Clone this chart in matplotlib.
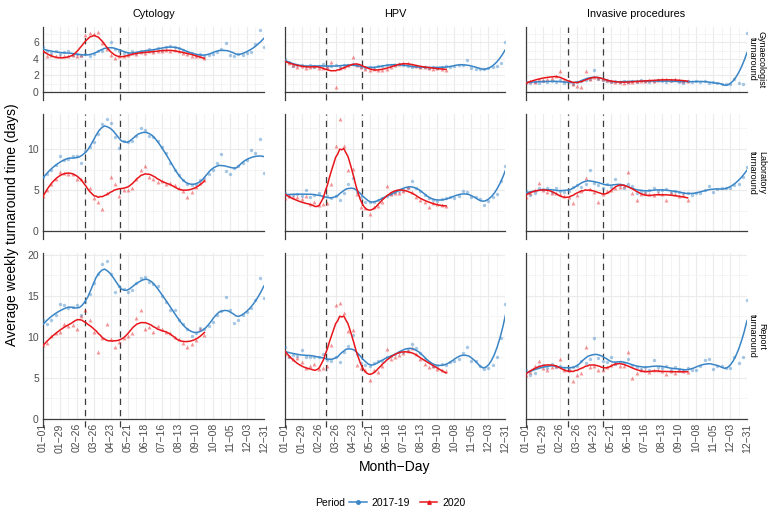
import numpy as np
import matplotlib
matplotlib.use("Agg")
import matplotlib.pyplot as plt
from matplotlib.lines import Line2D

plt.rcParams["font.family"] = ["Liberation Sans", "DejaVu Sans"]

# ---- data (weekly averages) ----
tests = ["Cytology", "HPV", "Invasive procedures"]
stages = ["Gynaecologist\nturnaround", "Laboratory\nturnaround", "Report\nturnaround"]
tick_labels = ["01-01", "01-29", "02-26", "03-26", "04-23", "05-21", "06-18",
               "07-16", "08-13", "09-10", "10-08", "11-05", "12-03", "12-31"]
lockdown_days = [69, 127]

days_1719 = list(range(0, 365, 7))   # 53 weeks
days_2020 = list(range(0, 267, 7))   # 39 weeks

# Gynaecologist turnaround
cyt_gyn_1719 = [5.4, 4.9, 4.7, 4.9, 4.6, 4.8, 5.0, 4.5, 4.6, 4.4, 4.6, 4.4, 4.6, 5.0, 4.9, 5.3, 6.1, 5.2,
                4.9, 4.7, 4.6, 4.9, 4.7, 5.0, 4.9, 5.2, 5.0, 5.3, 5.1, 5.4, 5.6, 5.5, 5.3, 5.1, 4.8, 4.7,
                4.5, 4.6, 4.4, 4.5, 4.6, 4.8, 5.2, 5.9, 4.5, 4.4, 4.6, 4.5, 4.7, 4.8, 5.8, 7.5, 5.4]
cyt_gyn_2020 = [4.9, 4.4, 4.5, 4.3, 4.4, 4.3, 4.3, 4.5, 4.4, 4.5, 6.9, 7.1, 7.0, 7.3, 5.9, 5.2, 4.5, 4.1,
                4.4, 4.3, 4.5, 4.7, 4.6, 4.8, 4.7, 4.9, 4.8, 5.0, 4.9, 5.1, 5.0, 5.1, 4.9, 4.7, 4.6, 4.4,
                4.3, 4.3, 4.1]
hpv_gyn_1719 = [4.0, 3.6, 3.1, 3.2, 3.3, 3.1, 3.2, 3.0, 3.1, 3.4, 3.0, 3.1, 3.2, 3.0, 3.2, 3.3, 3.4, 3.2,
                3.0, 2.9, 3.0, 2.9, 3.1, 3.1, 3.2, 3.3, 3.3, 3.4, 3.2, 3.1, 3.0, 3.1, 3.0, 3.0, 2.9, 3.0,
                2.9, 3.0, 3.1, 3.0, 3.1, 3.2, 3.2, 3.9, 2.9, 2.8, 2.8, 2.8, 2.9, 3.0, 3.1, 3.5, 6.05]
hpv_gyn_2020 = [3.9, 3.5, 3.2, 3.0, 3.1, 2.9, 3.0, 3.1, 2.9, 2.9, 3.0, 3.6, 0.6, 2.9, 3.0, 3.2, 4.2, 3.3,
                3.0, 2.8, 2.7, 2.8, 2.7, 2.6, 2.8, 3.0, 3.2, 3.4, 3.5, 3.5, 3.3, 3.1, 3.0, 3.0, 2.9, 2.8,
                2.9, 2.8, 2.7]
inv_gyn_1719 = [1.2, 1.1, 1.2, 1.1, 1.3, 1.2, 1.3, 1.2, 1.4, 1.1, 1.3, 0.9, 1.2, 1.3, 1.4, 1.5, 2.6, 1.6,
                1.4, 1.3, 1.2, 1.3, 1.2, 1.3, 1.2, 1.3, 1.2, 1.4, 1.3, 1.2, 1.3, 1.4, 1.3, 1.2, 1.3, 1.4,
                1.2, 1.1, 1.3, 1.2, 1.3, 1.2, 1.3, 1.1, 1.2, 1.1, 0.9, 0.9, 1.0, 1.5, 1.1, 1.0, 7.1]
inv_gyn_2020 = [1.2, 1.3, 1.2, 1.6, 1.4, 1.5, 1.7, 1.9, 2.5, 1.4, 1.3, 0.9, 0.7, 0.6, 2.5, 1.6, 1.8, 1.7,
                1.5, 1.4, 1.3, 1.2, 1.2, 1.1, 1.2, 1.2, 1.3, 1.3, 1.3, 1.4, 1.3, 1.4, 1.5, 1.5, 1.4, 1.5,
                1.4, 1.3, 1.3]

# Laboratory turnaround
cyt_lab_1719 = [6.6, 6.9, 7.4, 8.0, 9.2, 8.6, 8.8, 9.2, 9.1, 8.3, 9.8, 10.3, 10.9, 11.8, 13.0, 13.6, 13.2,
                11.5, 10.1, 11.0, 10.8, 11.0, 11.6, 12.5, 12.3, 11.6, 11.4, 11.0, 10.2, 9.5, 8.3, 7.5,
                6.8, 6.2, 5.7, 5.6, 5.7, 6.2, 6.5, 6.9, 7.4, 8.3, 9.4, 7.3, 7.0, 7.7, 7.9, 8.3, 8.6,
                9.9, 9.5, 11.2, 7.1]
cyt_lab_2020 = [4.3, 5.0, 5.7, 6.3, 7.2, 7.1, 7.0, 6.9, 6.4, 6.3, 6.2, 5.3, 4.0, 3.5, 2.7, 4.7, 6.6, 5.7,
                4.3, 5.0, 5.0, 5.3, 6.3, 7.4, 7.9, 6.6, 6.4, 6.0, 6.1, 5.8, 5.9, 5.6, 5.2, 4.9, 4.2, 4.8,
                5.4, 5.9, 6.2]
hpv_lab_1719 = [4.6, 4.3, 4.4, 4.5, 4.3, 5.0, 4.2, 4.4, 4.6, 4.1, 4.3, 4.0, 4.3, 3.8, 4.6, 5.7, 6.5, 4.8,
                4.1, 3.6, 3.5, 3.6, 3.8, 4.0, 4.3, 4.5, 4.8, 4.9, 5.0, 5.2, 6.1, 5.2, 4.9, 4.4, 4.0, 3.8,
                3.7, 3.9, 4.0, 4.1, 4.0, 4.3, 4.9, 4.8, 4.2, 4.1, 3.9, 3.2, 3.7, 4.1, 4.5, 6.1, 7.9]
hpv_lab_2020 = [4.0, 4.3, 4.1, 4.2, 3.9, 4.3, 3.3, 3.5, 3.2, 3.3, 3.4, 5.7, 10.4, 13.6, 10.4, 7.5, 7.6, 4.5,
                3.0, 2.8, 2.1, 2.9, 3.1, 3.6, 5.5, 4.5, 4.6, 4.7, 4.9, 5.4, 4.8, 4.2, 3.8, 3.6, 3.0, 3.4,
                3.3, 3.2, 3.1]
inv_lab_1719 = [4.9, 4.4, 4.7, 5.3, 5.1, 5.2, 4.8, 5.2, 4.9, 4.8, 4.9, 5.4, 5.6, 5.4, 5.8, 7.4, 5.9, 5.6,
                5.3, 5.7, 5.4, 6.3, 5.6, 5.2, 5.7, 5.5, 4.7, 4.9, 4.8, 5.0, 5.2, 4.9, 5.0, 5.1, 4.8, 4.9,
                4.8, 4.7, 4.6, 4.4, 4.7, 4.6, 5.0, 5.5, 4.8, 5.1, 5.3, 5.2, 5.2, 5.6, 5.8, 6.6, 7.8]
inv_lab_2020 = [4.1, 4.6, 5.0, 5.9, 5.0, 4.8, 4.7, 4.6, 4.5, 4.3, 4.2, 3.4, 4.4, 4.9, 6.5, 5.1, 4.8, 3.6,
                4.5, 4.9, 5.0, 5.2, 5.4, 5.5, 7.2, 4.6, 3.8, 4.5, 4.6, 4.5, 4.4, 4.6, 4.5, 3.8, 4.6, 4.5,
                4.3, 4.4, 3.8]

# Report turnaround
cyt_rep_1719 = [12.0, 11.5, 12.1, 12.6, 14.0, 13.9, 13.5, 13.6, 13.9, 12.7, 14.2, 15.2, 16.6, 17.6, 18.9,
                19.2, 17.6, 15.5, 16.2, 15.8, 15.4, 15.7, 16.6, 17.2, 17.3, 16.7, 16.4, 16.2, 15.0, 14.2,
                13.3, 13.3, 12.0, 11.6, 10.9, 10.1, 10.4, 11.1, 11.0, 11.3, 11.8, 12.7, 13.1, 14.8, 13.2,
                11.7, 12.0, 12.6, 13.0, 13.5, 14.5, 17.2, 14.7]
cyt_rep_2020 = [9.0, 9.3, 10.1, 10.5, 10.6, 11.6, 11.3, 11.4, 11.0, 12.5, 13.2, 12.0, 10.6, 8.2, 9.8, 11.5,
                9.7, 8.7, 9.4, 9.8, 10.1, 10.5, 12.3, 13.2, 11.0, 11.2, 10.6, 11.3, 10.9, 10.6, 10.4,
                10.0, 9.7, 9.2, 8.8, 9.1, 9.6, 11.0, 10.2]
hpv_rep_1719 = [8.7, 7.5, 7.8, 7.7, 8.4, 7.6, 7.5, 7.6, 7.5, 7.9, 7.2, 7.1, 7.6, 6.9, 8.1, 8.9, 10.2, 7.9,
                6.8, 6.6, 6.4, 6.8, 7.1, 7.0, 7.5, 7.7, 7.9, 8.1, 8.2, 8.4, 9.1, 8.6, 8.0, 7.3, 6.9, 6.5,
                6.5, 6.7, 6.6, 6.9, 7.1, 7.3, 8.0, 8.7, 7.1, 7.0, 6.4, 6.1, 6.2, 6.6, 7.5, 9.8, 14.0]
hpv_rep_2020 = [7.9, 7.7, 7.3, 7.4, 6.9, 6.2, 6.4, 6.7, 6.1, 6.2, 6.5, 9.0, 13.85, 14.1, 12.9, 10.7, 10.8,
                6.6, 6.2, 6.0, 4.8, 5.9, 5.7, 6.5, 8.5, 7.3, 7.6, 7.8, 8.0, 8.3, 8.6, 7.9, 7.3, 6.7, 6.3,
                6.5, 6.1, 5.9, 5.8]
inv_rep_1719 = [6.0, 5.3, 5.6, 6.4, 6.6, 6.2, 6.7, 6.3, 6.4, 6.2, 6.1, 6.3, 6.5, 7.0, 6.8, 7.3, 9.9, 7.4,
                7.0, 6.9, 7.5, 6.7, 6.9, 6.8, 7.3, 6.6, 6.3, 6.1, 6.3, 6.0, 7.2, 6.3, 6.2, 6.4, 6.0, 6.3,
                6.1, 5.9, 6.2, 6.0, 5.9, 6.4, 7.2, 7.25, 6.1, 6.5, 6.5, 6.2, 6.2, 7.6, 6.8, 7.6, 14.5]
inv_rep_2020 = [5.4, 5.7, 6.4, 7.0, 6.2, 6.0, 6.3, 6.5, 7.3, 5.9, 6.0, 4.6, 5.4, 5.6, 8.8, 6.3, 6.4, 5.9,
                6.0, 6.3, 6.6, 6.8, 6.5, 6.4, 8.2, 5.0, 5.6, 5.9, 6.0, 5.7, 5.9, 6.0, 5.8, 5.5, 5.8, 5.6,
                5.9, 5.8, 5.7]

panels = [
    [(cyt_gyn_1719, cyt_gyn_2020), (hpv_gyn_1719, hpv_gyn_2020), (inv_gyn_1719, inv_gyn_2020)],
    [(cyt_lab_1719, cyt_lab_2020), (hpv_lab_1719, hpv_lab_2020), (inv_lab_1719, inv_lab_2020)],
    [(cyt_rep_1719, cyt_rep_2020), (hpv_rep_1719, hpv_rep_2020), (inv_rep_1719, inv_rep_2020)],
]
y_major = [[0, 2, 4, 6], [0, 5, 10], [0, 5, 10, 15, 20]]
y_minor = [[1, 3, 5, 7], [2.5, 7.5, 12.5], [2.5, 7.5, 12.5, 17.5]]

blue = "#3A85C6"
red = "#E8161B"
SPAN_1719 = 0.28
SPAN_2020 = 0.4


def loess(x, y, span, n_out=80):
    # local quadratic fit with tricube weights (like R's loess / geom_smooth)
    x = np.asarray(x, float)
    y = np.asarray(y, float)
    q = int(np.floor(len(x) * span))
    xs = np.linspace(x.min(), x.max(), n_out)
    fit = []
    for x0 in xs:
        d = np.abs(x - x0)
        h = np.sort(d)[q - 1] * 1.001
        w = np.clip(1 - (d / h) ** 3, 0, None) ** 3
        X = np.column_stack([np.ones_like(x), x - x0, (x - x0) ** 2])
        sw = np.sqrt(w)
        beta = np.linalg.lstsq(X * sw[:, None], y * sw, rcond=None)[0]
        fit.append(beta[0])
    return xs, np.array(fit)


row_tops = []
for row in panels:
    top = max(max(max(a), max(b)) for a, b in row)
    row_tops.append(top * 1.05)

fig = plt.figure(figsize=(7.8, 5.2), dpi=100)
gs = fig.add_gridspec(3, 3, left=43 / 780, right=747 / 780, top=1 - 27 / 520, bottom=1 - 419 / 520,
                      wspace=0.0936, hspace=0.19, height_ratios=row_tops)

tick_days = list(range(0, 365, 28))
minor_days = list(range(14, 365, 28))

for r in range(3):
    for c in range(3):
        ax = fig.add_subplot(gs[r, c])
        s1719, s2020 = panels[r][c]
        ax.scatter(days_1719, s1719, s=6, marker="o", color=blue, alpha=0.45, linewidths=0, zorder=3)
        ax.scatter(days_2020, s2020, s=8, marker="^", color=red, alpha=0.45, linewidths=0, zorder=3)
        xs, fs = loess(days_1719, s1719, SPAN_1719)
        ax.plot(xs, fs, color=blue, lw=1.1, zorder=4)
        xs, fs = loess(days_2020, s2020, SPAN_2020)
        ax.plot(xs, fs, color=red, lw=1.1, zorder=5)

        ax.set_xlim(0, 364)
        ax.set_ylim(0, row_tops[r])
        h_px = ax.get_position().height * 520
        ext = 8 / h_px
        for d in lockdown_days:
            ax.axvline(d, ymin=-ext, ymax=1, color="#3C3C3C", lw=0.9, ls=(0, (5, 4)),
                       clip_on=False, zorder=2)
        ax.axvline(0, ymin=-ext, ymax=0, color="#3C3C3C", lw=0.9, clip_on=False)

        ax.set_xticks(tick_days)
        ax.set_xticks(minor_days, minor=True)
        ax.set_yticks(y_major[r])
        ax.set_yticks(y_minor[r], minor=True)
        ax.grid(which="major", color="#EBEBEB", lw=0.8, zorder=0)
        ax.grid(which="minor", color="#F3F3F3", lw=0.6, zorder=0)
        ax.set_axisbelow(True)
        ax.tick_params(which="both", length=0, labelsize=7.5, labelcolor="#4D4D4D", pad=3)
        for sp in ["top", "right"]:
            ax.spines[sp].set_visible(False)
        for sp in ["left", "bottom"]:
            ax.spines[sp].set_color("#3C3C3C")
            ax.spines[sp].set_linewidth(0.9)

        if r == 2:
            ax.set_xticklabels([t.replace("-", "\u2212") for t in tick_labels], rotation=90)
        else:
            ax.set_xticklabels([])
        if c != 0:
            ax.set_yticklabels([])
        if r == 0:
            ax.set_title(tests[c], fontsize=7.8, pad=7)
        if c == 2:
            ax.text(1.045, 0.5, stages[r], transform=ax.transAxes, rotation=270,
                    ha="center", va="center", fontsize=6.5, linespacing=1.0)

fig.text(12 / 780, 1 - 225 / 520, "Average weekly turnaround time (days)", rotation=90,
         ha="center", va="center", fontsize=10)
fig.text(395 / 780, 1 - 467 / 520, "Month\u2212Day", ha="center", va="center", fontsize=10)

fig.text(345 / 780, 1 - 503 / 520, "Period", ha="right", va="center", fontsize=7.5)
handles = [Line2D([0], [0], color=blue, lw=1.1, marker="o", ms=2.5),
           Line2D([0], [0], color=red, lw=1.1, marker="^", ms=2.5)]
fig.legend(handles, ["2017-19", "2020"], loc="center left", bbox_to_anchor=(349 / 780, 1 - 503 / 520),
           ncol=2, frameon=False, fontsize=7.5, handlelength=1.7, handletextpad=0.5,
           columnspacing=0.9, borderpad=0, borderaxespad=0)

fig.savefig("out.png", dpi=100)
